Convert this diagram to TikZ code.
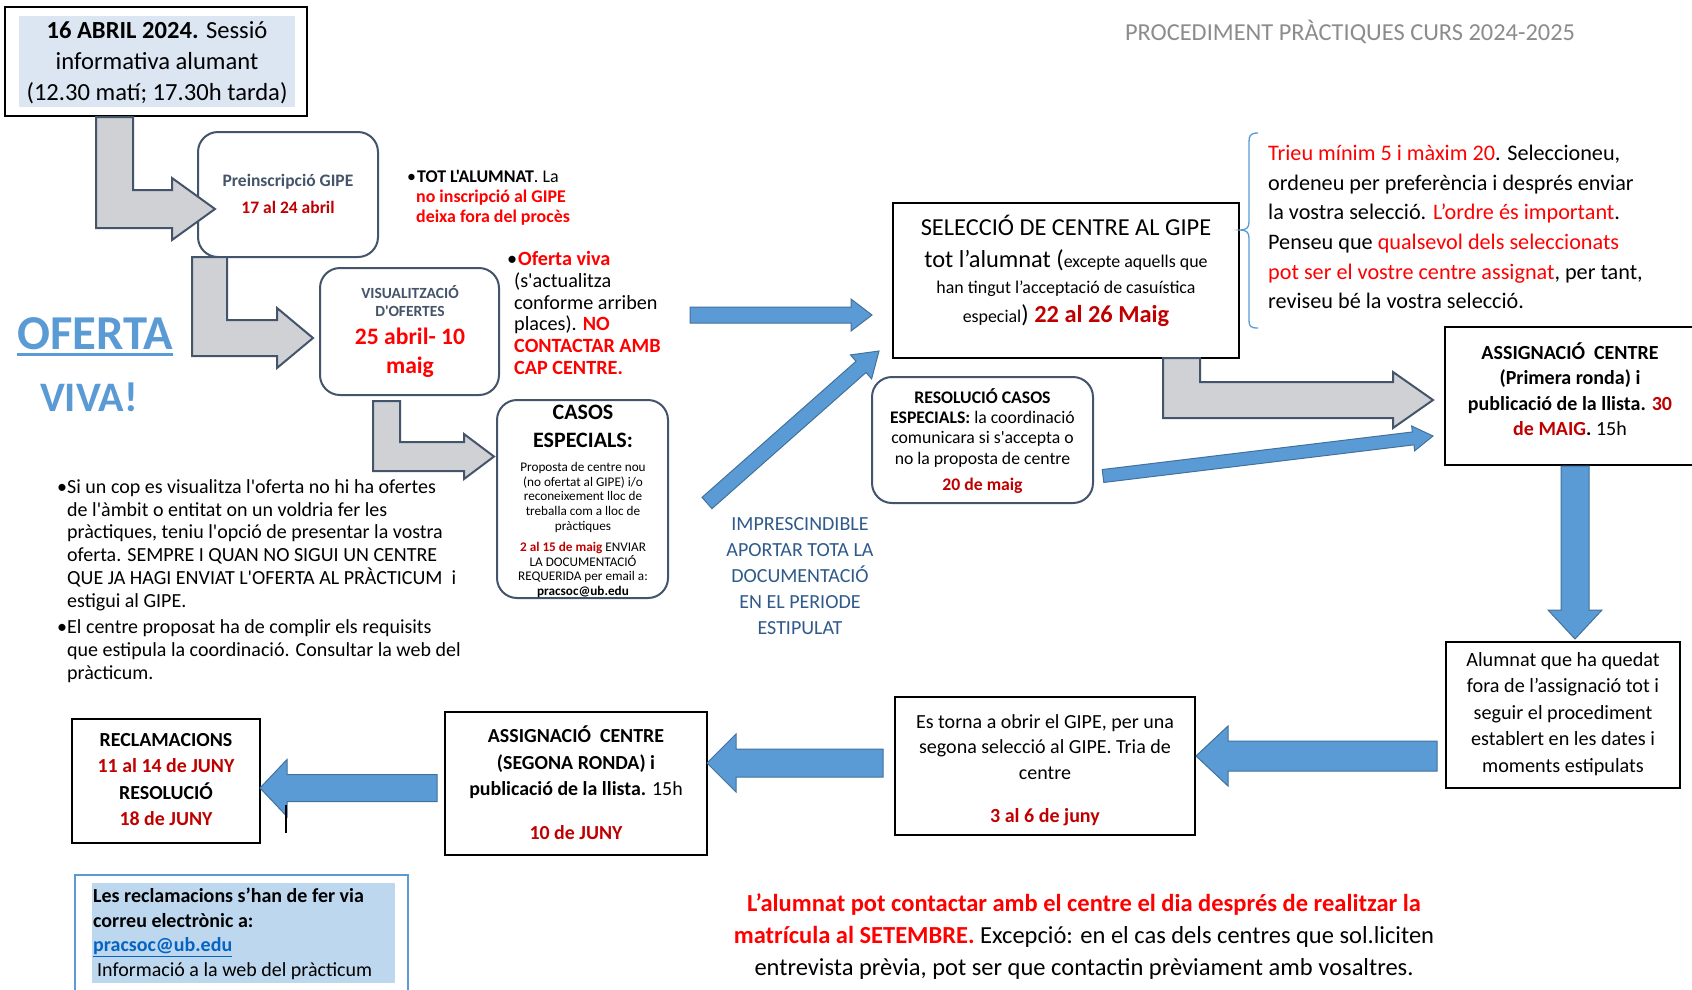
\documentclass[tikz,border=0pt]{standalone}
\usepackage{fontspec}
\setmainfont{Carlito}[Ligatures=TeXOff]
\usetikzlibrary{calc}
\newcommand\fs[2]{\fontsize{#1}{#2}\selectfont}
\definecolor{slate}{HTML}{44546A}
\definecolor{dred}{HTML}{C00000}
\definecolor{bred}{HTML}{FF0000}
\definecolor{tfill}{HTML}{DCE6F2}
\definecolor{gfill}{HTML}{D0D1D5}
\definecolor{bfill}{HTML}{5B9BD5}
\definecolor{bdraw}{HTML}{41719C}
\definecolor{impblue}{HTML}{2F5A8A}
\definecolor{lbfill}{HTML}{BDD7EE}
\definecolor{linkc}{HTML}{0563C1}
\definecolor{tgray}{HTML}{8C8C8C}
\definecolor{ofblue}{HTML}{5B9BD5}
\newcommand\blockarrow[6]{%
  \coordinate (hb) at ($(#2)!#5!(#1)$);
  \draw[#6] ($(#1)!#3!90:(#2)$) -- ($(hb)!#3!90:(#2)$) -- ($(hb)!#4!90:(#2)$) -- (#2)
    -- ($(hb)!#4!-90:(#2)$) -- ($(hb)!#3!-90:(#2)$) -- ($(#1)!#3!-90:(#2)$) -- cycle;
}
\begin{document}
\begin{tikzpicture}[x=1pt,y=-1pt,
  box/.style={draw=black, line width=1.1pt, fill=white, inner sep=0pt, outer sep=0pt},
  rbox/.style={draw=slate, line width=2pt, rounded corners=20pt, fill=white, inner sep=0pt},
  garrow/.style={fill=gfill, draw=slate, line width=2pt, line join=miter},
  barrow/.style={fill=bfill, draw=bdraw, line width=1pt, line join=miter},
  txt/.style={inner sep=0pt, align=center}]
\useasboundingbox (0,0) rectangle (1692,989);
\fill[white] (0,0) rectangle (1692,989);

% header
\node[txt, text=tgray, font=\fs{24.4}{28}] (header) at (1350,32) {PROCEDIMENT PRÀCTIQUES CURS 2024-2025};

% title box
\node[box, line width=1.2pt, minimum width=302pt, minimum height=109pt, anchor=north west] (titlebox) at (5,7) {};
\fill[tfill] (19,16) rectangle (295,107);
\node[txt, font=\fs{24.6}{31}] (titletxt) at (157,63) {\textbf{16 ABRIL 2024.} Sessió\\informativa alumant\\(12.30 matí; 17.30h tarda)};

% rounded boxes
\node[rbox, minimum width=180pt, minimum height=125pt] (prein) at (288,194.5) {};
\node[txt, font=\bfseries\fs{17.5}{26.5}] (preintxt) at (288,194) {\textcolor{slate}{Preinscripció GIPE}\\\textcolor{dred}{17 al 24 abril}};

\node[rbox, minimum width=179pt, minimum height=127pt] (visu) at (409.5,331.5) {};
\node[txt, text=slate, font=\bfseries\fs{15.5}{18}] (visutxt1) at (410,301.5) {VISUALITZACIÓ\\D'OFERTES};
\node[txt, text=bred, font=\bfseries\fs{23.6}{29}] (visutxt2) at (410,353) {25 abril- 10\\maig};

\node[rbox, minimum width=171pt, minimum height=198pt] (casos) at (582.5,499) {};
\node[txt, font=\bfseries\fs{22}{28}] (casostit) at (583,426) {CASOS\\ESPECIALS:};
\node[txt, font=\fs{13.2}{14.8}] (casostxt) at (583,530) {Proposta de centre nou\\(no ofertat al GIPE) i/o\\reconeixement lloc de\\treballa com a lloc de\\pràctiques\\[6pt]\textcolor{dred}{\bfseries 2 al 15 de maig} ENVIAR\\LA DOCUMENTACIÓ\\REQUERIDA per email a:\\\textbf{pracsoc@ub.edu}};

\node[rbox, minimum width=221pt, minimum height=126pt] (resol) at (982.5,440) {};
\node[txt, font=\fs{17.7}{20.2}] (resoltxt) at (982.5,441) {\textbf{RESOLUCIÓ CASOS}\\\textbf{ESPECIALS:} la coordinació\\comunicara si s'accepta o\\no la proposta de centre\\[6pt]\textcolor{dred}{\bfseries 20 de maig}};

% side texts
\node[txt, align=left, anchor=west, font=\fs{17.9}{20}] (total) at (407,198) {\makebox[10pt][l]{•}\textbf{TOT L'ALUMNAT}. La\\\hspace*{9pt}\textcolor{bred}{\bfseries no inscripció al GIPE}\\\hspace*{9pt}\textcolor{bred}{\bfseries deixa fora del procès}};

\node[txt, align=left, anchor=west, font=\fs{20.2}{21.8}] (oferviva) at (507,313) {\makebox[11pt][l]{•}\textcolor{bred}{\bfseries Oferta viva}\\\hspace*{7pt}(s'actualitza\\\hspace*{7pt}conforme arriben\\\hspace*{7pt}places). \textcolor{bred}{\bfseries NO}\\\hspace*{7pt}\textcolor{bred}{\bfseries CONTACTAR AMB}\\\hspace*{7pt}\textcolor{bred}{\bfseries CAP CENTRE.}};

\node[txt, text=ofblue, font=\bfseries\fs{48.7}{52}] (oferta) at (95,334) {OFERTA};
\draw[ofblue, line width=2.5pt] ([yshift=-4pt]oferta.south west) -- ([yshift=-4pt]oferta.south east);
\node[txt, text=ofblue, font=\bfseries\fs{42}{46}] (viva) at (89,397.5) {VIVA!};

\node[txt, align=left, anchor=west, font=\fs{20}{22.8}] (leftpar) at (57,581) {\makebox[10pt][l]{•}Si un cop es visualitza l'oferta no hi ha ofertes\\\hspace*{10pt}de l'àmbit o entitat on un voldria fer les\\\hspace*{10pt}pràctiques, teniu l'opció de presentar la vostra\\\hspace*{10pt}oferta. SEMPRE I QUAN NO SIGUI UN CENTRE\\\hspace*{10pt}QUE JA HAGI ENVIAT L'OFERTA AL PRÀCTICUM\ \ i\\\hspace*{10pt}estigui al GIPE.\\[3.5pt]\makebox[10pt][l]{•}El centre proposat ha de complir els requisits\\\hspace*{10pt}que estipula la coordinació. Consultar la web del\\\hspace*{10pt}pràcticum.};

\node[txt, text=impblue, font=\fs{20}{26}] (impr) at (800,576) {IMPRESCINDIBLE\\APORTAR TOTA LA\\DOCUMENTACIÓ\\EN EL PERIODE\\ESTIPULAT};

% selection box
\node[box, minimum width=346pt, minimum height=155pt] (selec) at (1066,280.5) {};
\node[anchor=base, inner sep=0pt, font=\fs{24.4}{28}] (sel1) at (1066,235) {SELECCIÓ DE CENTRE AL GIPE};
\node[anchor=base, inner sep=0pt] (sel2) at (1066,267) {\fs{24.4}{28}tot l’alumnat (\fs{17.9}{20}excepte aquells que};
\node[anchor=base, inner sep=0pt, font=\fs{17.9}{20}] (sel3) at (1066,293) {han tingut l’acceptació de casuística};
\node[anchor=base, inner sep=0pt] (sel4) at (1066,322) {\fs{17.9}{20}especial\fs{24.4}{28}) \textcolor{dred}{\bfseries 22 al 26 Maig}};

% brace and right text
\draw[bfill, line width=1.3pt] (1258,133) .. controls (1250,133) and (1249,136) .. (1249,142) -- (1249,222) .. controls (1249,228) and (1246,230) .. (1240,230) .. controls (1246,230) and (1249,232) .. (1249,238) -- (1249,320) .. controls (1249,326) and (1250,328) .. (1258,328);
\node[txt, align=left, anchor=west, font=\fs{22.2}{29.6}] (rtext) at (1268,227) {\textcolor{bred}{Trieu mínim 5 i màxim 20}. Seleccioneu,\\ordeneu per preferència i després enviar\\la vostra selecció. \textcolor{bred}{L’ordre és important}.\\Penseu que \textcolor{bred}{qualsevol dels seleccionats}\\\textcolor{bred}{pot ser el vostre centre assignat}, per tant,\\reviseu bé la vostra selecció.};

% assignment 1
\node[box, minimum width=248pt, minimum height=138pt] (assign1) at (1569,396) {};
\node[txt, font=\bfseries\fs{20}{25.5}] (assign1txt) at (1570,389) {ASSIGNACIÓ\ \ CENTRE\\(Primera ronda) i\\publicació de la llista. \textcolor{dred}{30}\\\textcolor{dred}{de MAIG}. {\mdseries 15h}};

% alumnat box
\node[box, minimum width=234pt, minimum height=146pt] (alumnat) at (1563,715) {};
\node[txt, font=\fs{20.2}{26.6}] (alumnattxt) at (1563,714) {Alumnat que ha quedat\\fora de l’assignació tot i\\seguir el procediment\\establert en les dates i\\moments estipulats};

% es torna
\node[box, minimum width=300pt, minimum height=138pt] (torna) at (1045,766) {};
\node[txt, font=\fs{20}{25.5}] (tornatxt) at (1045,770) {Es torna a obrir el GIPE, per una\\segona selecció al GIPE. Tria de\\centre\\[18pt]\textcolor{dred}{\bfseries 3 al 6 de juny}};

% assignment 2
\node[box, minimum width=262pt, minimum height=143pt] (assign2) at (576,783.5) {};
\node[txt, font=\bfseries\fs{19.9}{26.5}] (assign2txt) at (576,782.5) {ASSIGNACIÓ\ \ CENTRE\\(SEGONA RONDA) i\\publicació de la llista. {\mdseries 15h}\\[17pt]\textcolor{dred}{10 de JUNY}};

% reclamacions
\node[box, minimum width=188pt, minimum height=124pt] (reclam) at (166,781) {};
\node[txt, font=\bfseries\fs{19.9}{26.2}] (reclamtxt) at (166,779.5) {RECLAMACIONS\\\textcolor{dred}{11 al 14 de JUNY}\\RESOLUCIÓ\\\textcolor{dred}{18 de JUNY}};

% bottom-left note
\fill[lbfill] (92,883) rectangle (395,983);
\draw[bfill, line width=1.5pt] (75,995) -- (75,875) -- (408,875) -- (408,995);
\node[txt, align=left, anchor=west, font=\fs{20}{24.5}] (reclnote) at (93,934) {\textbf{Les reclamacions s’han de fer via}\\\textbf{correu electrònic a:}\\\textcolor{linkc}{\bfseries\underline{pracsoc@ub.edu}}\\\hspace*{4pt}Informació a la web del pràcticum};

% bottom text
\node[txt, font=\fs{24.5}{32}] (bottomtxt) at (1084,937) {\textcolor{bred}{\bfseries L’alumnat pot contactar amb el centre el dia després de realitzar la}\\\textcolor{bred}{\bfseries matrícula al SETEMBRE.} Excepció: en el cas dels centres que sol.liciten\\entrevista prèvia, pot ser que contactin prèviament amb vosaltres.};

% gray bent arrows
\draw[garrow] (96,117) -- (133,117) -- (133,190) -- (172,190) -- (172,178) -- (215,209) -- (172,240) -- (172,228) -- (96,228) -- cycle;
\draw[garrow] (192,257) -- (227,257) -- (227,320) -- (277,320) -- (277,308) -- (313,338) -- (277,368) -- (277,356) -- (192,356) -- cycle;
\draw[garrow] (373,401) -- (400,401) -- (400,442) -- (464,442) -- (464,434) -- (494,456.5) -- (464,479) -- (464,471) -- (373,471) -- cycle;
\draw[garrow] (1163,358) -- (1200,358) -- (1200,382) -- (1393,382) -- (1393,372) -- (1433,400) -- (1393,428) -- (1393,418) -- (1163,418) -- cycle;

% blue block arrows
\coordinate (ba1s) at (690,315); \coordinate (ba1e) at (872,315);
\blockarrow{ba1s}{ba1e}{8pt}{16pt}{21pt}{barrow}
\coordinate (ba2s) at (707,503); \coordinate (ba2e) at (879,351);
\blockarrow{ba2s}{ba2e}{7.5pt}{16pt}{24pt}{barrow}
\coordinate (ba3s) at (1103,476); \coordinate (ba3e) at (1433,436);
\blockarrow{ba3s}{ba3e}{6.5pt}{12.5pt}{20pt}{barrow}
\coordinate (ba4s) at (1575,466); \coordinate (ba4e) at (1575,639);
\blockarrow{ba4s}{ba4e}{14pt}{27pt}{29pt}{barrow}
\coordinate (ba5s) at (1437,756); \coordinate (ba5e) at (1196,756);
\blockarrow{ba5s}{ba5e}{15pt}{30pt}{32pt}{barrow}
\coordinate (ba6s) at (883,763); \coordinate (ba6e) at (707,763);
\blockarrow{ba6s}{ba6e}{14pt}{29pt}{29pt}{barrow}
\coordinate (ba7s) at (437,788); \coordinate (ba7e) at (260,788);
\blockarrow{ba7s}{ba7e}{13.5pt}{28.5pt}{27pt}{barrow}

% stray mark
\coordinate (mk1) at (286,805); \coordinate (mk2) at (286,833);
\draw[black, line width=1.5pt] (mk1) -- (mk2);
\end{tikzpicture}
\end{document}
